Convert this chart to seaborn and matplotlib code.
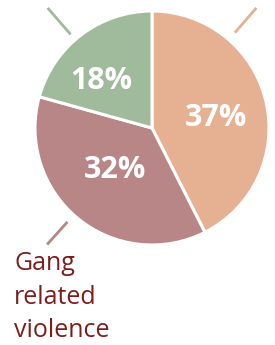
import numpy as np
import matplotlib
matplotlib.use("Agg")
import matplotlib.pyplot as plt
import seaborn as sns

# slice data (clockwise from 12 o'clock)
categories = ["Other", "Gang related violence", "Domestic"]
values = [37, 32, 18]
pct_labels = ["37%", "32%", "18%"]
colors = ["#E5B192", "#B98687", "#9FBB9C"]

sns.set_theme(style="white")
plt.rcParams['font.family'] = ['Open Sans', 'DejaVu Sans']

fig = plt.figure(figsize=(2.75, 3.45), dpi=100)
ax = fig.add_axes([0, 0, 1, 1])

cx, cy, r = 152, 217, 117
wedges, _ = ax.pie(values, colors=colors, startangle=90, counterclock=False,
                   center=(cx, cy), radius=r, frame=True,
                   wedgeprops=dict(edgecolor="white", linewidth=2.2))
ax.set_xlim(0, 275)
ax.set_ylim(0, 345)
ax.set_aspect("equal")
ax.axis("off")

# percentage labels inside slices
dist = [0.55, 0.48, 0.59]
shift = [-4.7, -2.2, 10]  # degrees nudge from mid-angle
for w, lab, d, s in zip(wedges, pct_labels, dist, shift):
    mid = np.deg2rad((w.theta1 + w.theta2) / 2 + s)
    ax.text(cx + d * r * np.cos(mid), cy + d * r * np.sin(mid), lab,
            ha="center", va="center", color="white", fontsize=22,
            fontweight="bold")

# leader lines
lead_ang = [49, 228, 131]
lead_in = [1.08, 1.08, 1.06]
lead_out = [1.36, 1.34, 1.36]
for a, r0, r1, c in zip(lead_ang, lead_in, lead_out, colors):
    t = np.deg2rad(a)
    ax.plot([cx + r0 * r * np.cos(t), cx + r1 * r * np.cos(t)],
            [cy + r0 * r * np.sin(t), cy + r1 * r * np.sin(t)],
            color=c, lw=2, solid_capstyle="butt")

ax.text(14, 94, "Gang\nrelated\nviolence", ha="left", va="top",
        color="#7F1D1D", fontsize=18, linespacing=1.45)

fig.savefig("out.png", dpi=100)
